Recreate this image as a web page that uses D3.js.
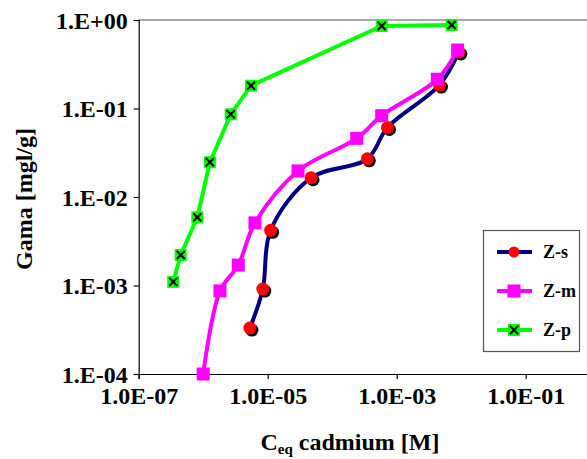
<!DOCTYPE html>
<html><head><meta charset="utf-8">
<script src="https://cdn.jsdelivr.net/npm/d3@7"></script>
<style>body{margin:0;background:#fff}svg{display:block}text{font-family:"Liberation Serif","Times New Roman",serif;font-weight:bold;fill:#000}</style>
</head><body>
<script>
// Data
const seriesNames = ["Z-s", "Z-m", "Z-p"];
const zsX = [5.3e-6, 8.4e-6, 1.11e-5, 4.7e-5, 3.5e-4, 7.2e-4, 4.6e-3, 9.2e-3];
const zsY = [3.3e-4, 9.1e-4, 4.2e-3, 1.65e-2, 2.7e-2, 6.1e-2, 0.184, 0.435];
const zmX = [1.0e-6, 1.82e-6, 3.5e-6, 6.35e-6, 2.95e-5, 2.4e-4, 5.85e-4, 4.27e-3, 8.8e-3];
const zmY = [1.0e-4, 8.7e-4, 1.7e-3, 5.1e-3, 1.97e-2, 4.6e-2, 8.3e-2, 0.214, 0.458];
const zpX = [3.43e-7, 4.48e-7, 8.1e-7, 1.27e-6, 2.67e-6, 5.5e-6, 5.85e-4, 7.13e-3];
const zpY = [1.10e-3, 2.21e-3, 5.9e-3, 2.47e-2, 8.6e-2, 0.181, 0.855, 0.878];
const xTicks = [1e-7, 1e-5, 1e-3, 1e-1];
const xTickLabels = ["1.0E-07", "1.0E-05", "1.0E-03", "1.0E-01"];
const yTicks = [1, 1e-1, 1e-2, 1e-3, 1e-4];
const yTickLabels = ["1.E+00", "1.E-01", "1.E-02", "1.E-03", "1.E-04"];

const W = 587, H = 459;
const FONT = "'Liberation Serif', 'Times New Roman', serif";
const svg = d3.select("body").append("svg").attr("width", W).attr("height", H);

const x = d3.scaleLog().domain([1e-7, 1]).range([138.7, 590.2]);
const y = d3.scaleLog().domain([1e-4, 1]).range([374, 20]);

// top border
svg.append("line").attr("x1", x(1e-7)).attr("x2", W).attr("y1", y(1)).attr("y2", y(1))
  .attr("stroke", "#555").attr("stroke-width", 1.2);

// axes
const xAxis = d3.axisBottom(x).tickValues(xTicks).tickFormat((d, i) => xTickLabels[i]).tickSizeOuter(0).tickSize(5).tickPadding(8);
const gx = svg.append("g").attr("transform", `translate(0,${y(1e-4)})`).call(xAxis);
const yAxis = d3.axisLeft(y).tickValues(yTicks).tickFormat((d, i) => yTickLabels[i]).tickSizeOuter(0).tickSize(5).tickPadding(6);
const gy = svg.append("g").attr("transform", `translate(${x(1e-7)},0)`).call(yAxis);
[gx, gy].forEach(g => {
  g.attr("font-family", FONT).attr("font-size", 24);
  g.select(".domain").attr("stroke", "#000").attr("stroke-width", 1.2);
  g.selectAll(".tick line").attr("stroke", "#000").attr("stroke-width", 1.2);
  g.selectAll("text").style("font-family", FONT).style("font-weight", "bold").style("font-size", "24px").attr("fill", "#000");
});
gy.selectAll("text").attr("dy", "0.35em");

// titles
const xt = svg.append("text").attr("x", 350).attr("y", 450).attr("text-anchor", "middle").style("font-size", "24px");
xt.append("tspan").text("C");
xt.append("tspan").style("font-size", "15px").attr("dy", 4).text("eq");
xt.append("tspan").attr("dy", -4).text(" cadmium [M]");
svg.append("text").attr("transform", "translate(32,199) rotate(-90)").attr("text-anchor", "middle")
  .style("font-size", "24px").text("Gama [mgl/g]");

const series = [
  {name: seriesNames[0], xs: zsX, ys: zsY, color: "#000080", curve: d3.curveCatmullRom, marker: "circle"},
  {name: seriesNames[1], xs: zmX, ys: zmY, color: "#ff00ff", curve: d3.curveCatmullRom, marker: "square"},
  {name: seriesNames[2], xs: zpX, ys: zpY, color: "#00ff00", curve: d3.curveLinear, marker: "xsquare"}
];

function drawMarker(g, type, cx, cy, color) {
  if (type === "circle") {
    g.append("circle").attr("cx", cx + 2).attr("cy", cy + 2).attr("r", 6.5).attr("fill", "#000");
    g.append("circle").attr("cx", cx).attr("cy", cy).attr("r", 6.5).attr("fill", "#ff0000");
  } else if (type === "square") {
    g.append("rect").attr("x", cx - 6.5).attr("y", cy - 6.5).attr("width", 13).attr("height", 13).attr("fill", color);
  } else {
    g.append("rect").attr("x", cx - 6).attr("y", cy - 6).attr("width", 12).attr("height", 12).attr("fill", color);
    g.append("path").attr("d", `M${cx-4},${cy-4}L${cx+4},${cy+4}M${cx-4},${cy+4}L${cx+4},${cy-4}`)
      .attr("stroke", "#000").attr("stroke-width", 2);
  }
}

series.forEach(s => {
  const pts = s.xs.map((v, i) => [x(v), y(s.ys[i])]);
  const g = svg.append("g");
  g.append("path").attr("d", d3.line().curve(s.curve)(pts)).attr("fill", "none")
    .attr("stroke", s.color).attr("stroke-width", 4).attr("stroke-linejoin", "round");
  pts.forEach(p => drawMarker(g, s.marker, p[0], p[1], s.color));
});

// legend
const lg = svg.append("g");
lg.append("rect").attr("x", 483.5).attr("y", 230.5).attr("width", 96).attr("height", 121)
  .attr("fill", "#fff").attr("stroke", "#555").attr("stroke-width", 1.2);
series.forEach((s, i) => {
  const ly = 252 + i * 39;
  lg.append("line").attr("x1", 497).attr("x2", 532).attr("y1", ly).attr("y2", ly)
    .attr("stroke", s.color).attr("stroke-width", 4);
  if (s.marker === "circle") {
    lg.append("circle").attr("cx", 514).attr("cy", ly).attr("r", 5.5).attr("fill", "#ff0000");
  } else drawMarker(lg, s.marker, 514, ly, s.color);
  lg.append("text").attr("x", 543).attr("y", ly).attr("dy", "0.35em").style("font-size", "18px").text(s.name);
});
</script>
</body></html>
